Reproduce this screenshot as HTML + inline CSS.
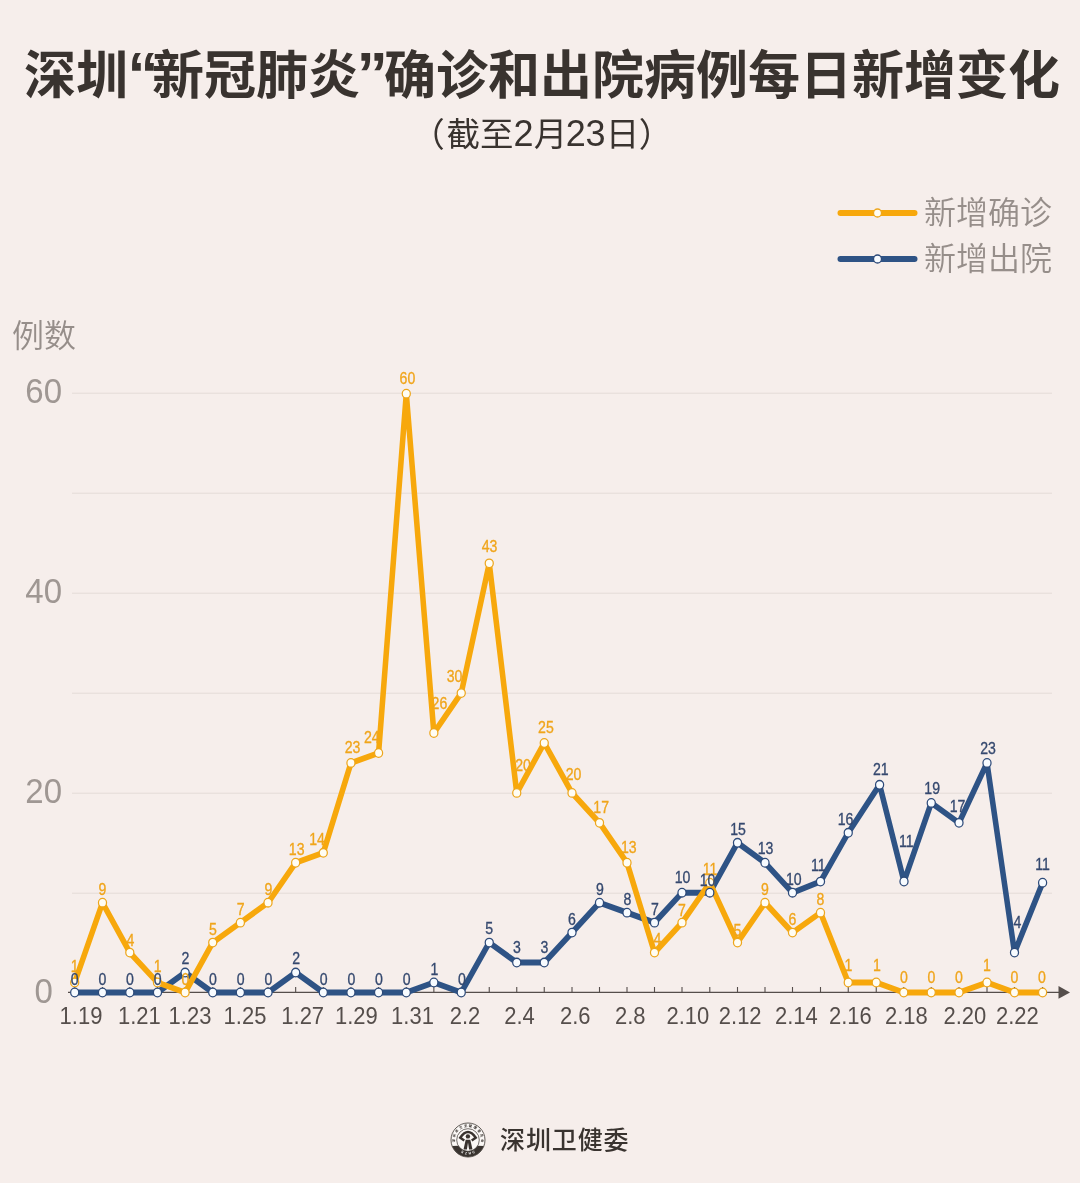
<!DOCTYPE html>
<html lang="zh-CN">
<head>
<meta charset="utf-8">
<title>深圳“新冠肺炎”确诊和出院病例每日新增变化</title>
<style>
html,body{margin:0;padding:0;}
body{width:1080px;height:1183px;background:#f6eeeb;position:relative;overflow:hidden;font-family:"Liberation Sans","Noto Sans CJK SC",sans-serif;}
.title{position:absolute;left:2px;top:40px;width:1080px;text-align:center;font-size:52px;line-height:72px;font-weight:700;color:#39332f;white-space:nowrap;margin:0;letter-spacing:0;}
.title .q{display:inline-block;font-size:62px;line-height:0;width:31px;position:relative;top:0.5px;}
.title .q1{margin:0 -6.5px 0 -0.5px;}
.title .q2{margin:0 -3.7px 0 -3.3px;}
.sub{position:absolute;left:411.3px;top:110.5px;width:400px;text-align:left;font-size:33.5px;line-height:46px;font-weight:400;color:#39332f;white-space:nowrap;margin:0;}
.sub .n{font-size:36px;letter-spacing:0.3px;}
.sub .n2{margin-left:-1.5px;letter-spacing:-0.4px;margin-right:0.7px;}
.sub .p1{margin-right:1.7px;}
.sub .p2{margin-left:-0.4px;}
.legend{position:absolute;left:836px;top:190.3px;width:230px;list-style:none;margin:0;padding:0;}
.legend li{height:46px;line-height:46px;font-size:32px;font-weight:350;color:#968e8a;white-space:nowrap;position:relative;padding-left:88px;}
.legend svg{position:absolute;left:0;top:13px;}
.ylab{position:absolute;left:12px;top:313px;font-size:32px;line-height:46px;font-weight:350;color:#968e8a;}
.chart{position:absolute;left:0;top:0;}
.chart text{font-family:"Liberation Sans","Noto Sans CJK SC",sans-serif;}
.footer{position:absolute;left:450px;top:1120px;height:40px;white-space:nowrap;}
.footer svg{position:absolute;left:0.4px;top:2.2px;}
.footer span{position:absolute;left:50px;top:0;font-size:25px;line-height:40px;font-weight:500;letter-spacing:0.9px;color:#39332f;}
</style>
</head>
<body>
<h1 class="title">深圳<span class="q q1">“</span>新冠肺炎<span class="q q2">”</span>确诊和出院病例每日新增变化</h1>
<p class="sub"><span class="p1">（</span>截至<span class="n">2</span>月<span class="n n2">23</span>日<span class="p2">）</span></p>
<ul class="legend">
<li><svg width="84" height="20" viewBox="0 0 84 20"><line x1="4.5" y1="10" x2="78.5" y2="10" stroke="#f7a80c" stroke-width="6" stroke-linecap="round"/><circle cx="41.5" cy="10" r="4" fill="#fffdf3" stroke="#eda61c" stroke-width="1.3"/></svg>新增确诊</li>
<li><svg width="84" height="20" viewBox="0 0 84 20"><line x1="4.5" y1="10" x2="78.5" y2="10" stroke="#2e5385" stroke-width="6" stroke-linecap="round"/><circle cx="41.5" cy="10" r="4" fill="#f7fbff" stroke="#2d4a79" stroke-width="1.3"/></svg>新增出院</li>
</ul>
<div class="ylab">例数</div>
<svg class="chart" width="1080" height="1183" viewBox="0 0 1080 1183">
<g stroke="#e4dbd7" stroke-width="1">
<line x1="72" y1="893.2" x2="1052" y2="893.2"/>
<line x1="72" y1="793.2" x2="1052" y2="793.2"/>
<line x1="72" y1="693.2" x2="1052" y2="693.2"/>
<line x1="72" y1="593.2" x2="1052" y2="593.2"/>
<line x1="72" y1="493.2" x2="1052" y2="493.2"/>
<line x1="72" y1="393.2" x2="1052" y2="393.2"/>
</g>
<g fill="#9f9793" font-size="33" text-anchor="middle">
<text transform="translate(43.7,1002.8) scale(1,1.06)">0</text>
<text transform="translate(43.7,802.8) scale(1,1.06)">20</text>
<text transform="translate(43.7,602.8) scale(1,1.06)">40</text>
<text transform="translate(43.7,402.8) scale(1,1.06)">60</text>
</g>
<g stroke="#554e4b" stroke-width="1.1" fill="none">
<line x1="68" y1="992.4" x2="1060" y2="992.4"/>
<path d="M74.7 992.4v-5.4M102.5 992.4v-5.4M129.8 992.4v-5.4M157.47 992.4v-5.4M185.11 992.4v-5.4M212.75 992.4v-5.4M240.38 992.4v-5.4M268.02 992.4v-5.4M295.66 992.4v-5.4M323.3 992.4v-5.4M350.94 992.4v-5.4M378.58 992.4v-5.4M406.3 992.4v-5.4M433.86 992.4v-5.4M461.25 992.4v-5.4M489.25 992.4v-5.4M516.75 992.4v-5.4M544.25 992.4v-5.4M572 992.4v-5.4M599.5 992.4v-5.4M627 992.4v-5.4M654.5 992.4v-5.4M682 992.4v-5.4M709.8 992.4v-5.4M737.5 992.4v-5.4M765 992.4v-5.4M792.5 992.4v-5.4M820.5 992.4v-5.4M848.25 992.4v-5.4M876.25 992.4v-5.4M903.75 992.4v-5.4M931.25 992.4v-5.4M959 992.4v-5.4M987 992.4v-5.4M1014.5 992.4v-5.4M1042.6 992.4v-5.4"/>
</g>
<path d="M1058.5 986L1070 992.4L1058.5 998.8Z" fill="#554e4b"/>
<g fill="#554e4b" font-size="22" text-anchor="middle">
<text transform="translate(81,1023.8) scale(1,1.07)">1.19</text>
<text transform="translate(139.3,1023.8) scale(1,1.07)">1.21</text>
<text transform="translate(190,1023.8) scale(1,1.07)">1.23</text>
<text transform="translate(245,1023.8) scale(1,1.07)">1.25</text>
<text transform="translate(302.7,1023.8) scale(1,1.07)">1.27</text>
<text transform="translate(356.3,1023.8) scale(1,1.07)">1.29</text>
<text transform="translate(412.5,1023.8) scale(1,1.07)">1.31</text>
<text transform="translate(465,1023.8) scale(1,1.07)">2.2</text>
<text transform="translate(519.5,1023.8) scale(1,1.07)">2.4</text>
<text transform="translate(575.2,1023.8) scale(1,1.07)">2.6</text>
<text transform="translate(630.2,1023.8) scale(1,1.07)">2.8</text>
<text transform="translate(687.8,1023.8) scale(1,1.07)">2.10</text>
<text transform="translate(740.2,1023.8) scale(1,1.07)">2.12</text>
<text transform="translate(796.3,1023.8) scale(1,1.07)">2.14</text>
<text transform="translate(850.3,1023.8) scale(1,1.07)">2.16</text>
<text transform="translate(906.3,1023.8) scale(1,1.07)">2.18</text>
<text transform="translate(964.8,1023.8) scale(1,1.07)">2.20</text>
<text transform="translate(1017.3,1023.8) scale(1,1.07)">2.22</text>
</g>
<g transform="scale(0.94,1)">
<polyline points="79.47,992.5 109.04,992.5 138.09,992.5 167.52,992.5 196.93,972.54 226.33,992.5 255.72,992.5 285.13,992.5 314.53,972.54 343.94,992.5 373.34,992.5 402.74,992.5 432.23,992.5 461.55,982.52 490.69,992.5 520.48,942.6 549.73,962.56 578.99,962.56 608.51,932.62 637.77,902.68 667.02,912.66 696.28,922.64 725.53,892.7 755.11,892.7 784.57,842.8 813.83,862.76 843.09,892.7 872.87,881.6 902.39,832.82 935.74,784.8 961.7,881.5 990.69,802.88 1020.21,822.84 1050.0,762.96 1079.26,952.58 1109.15,882.72" fill="none" stroke="#2e5385" stroke-width="5.9" stroke-linejoin="round" stroke-linecap="butt"/>
<polyline points="79.47,982.52 109.04,902.68 138.09,952.58 167.52,982.52 196.93,992.5 226.33,942.6 255.72,922.64 285.13,902.68 314.53,862.76 343.94,852.78 373.34,762.96 402.74,752.98 432.23,393.7 461.55,733.02 490.69,693.1 520.48,563.36 549.73,792.9 578.99,743.0 608.51,792.9 637.77,822.84 667.02,862.76 696.28,952.58 725.53,922.64 755.11,882.72 784.57,942.6 813.83,902.68 843.09,932.62 872.87,912.66 902.39,982.52 932.18,982.52 961.44,992.5 990.69,992.5 1020.21,992.5 1050.0,982.52 1079.26,992.5 1109.15,992.5" fill="none" stroke="#f7a80c" stroke-width="5.9" stroke-linejoin="round" stroke-linecap="butt"/>
<g fill="#fffdf3" stroke="#eda61c" stroke-width="1.3"><circle cx="79.47" cy="982.52" r="4.3"/><circle cx="109.04" cy="902.68" r="4.3"/><circle cx="138.09" cy="952.58" r="4.3"/><circle cx="167.52" cy="982.52" r="4.3"/><circle cx="196.93" cy="992.5" r="4.3"/><circle cx="226.33" cy="942.6" r="4.3"/><circle cx="255.72" cy="922.64" r="4.3"/><circle cx="285.13" cy="902.68" r="4.3"/><circle cx="314.53" cy="862.76" r="4.3"/><circle cx="343.94" cy="852.78" r="4.3"/><circle cx="373.34" cy="762.96" r="4.3"/><circle cx="402.74" cy="752.98" r="4.3"/><circle cx="432.23" cy="393.7" r="4.3"/><circle cx="461.55" cy="733.02" r="4.3"/><circle cx="490.69" cy="693.1" r="4.3"/><circle cx="520.48" cy="563.36" r="4.3"/><circle cx="549.73" cy="792.9" r="4.3"/><circle cx="578.99" cy="743.0" r="4.3"/><circle cx="608.51" cy="792.9" r="4.3"/><circle cx="637.77" cy="822.84" r="4.3"/><circle cx="667.02" cy="862.76" r="4.3"/><circle cx="696.28" cy="952.58" r="4.3"/><circle cx="725.53" cy="922.64" r="4.3"/><circle cx="755.11" cy="882.72" r="4.3"/><circle cx="784.57" cy="942.6" r="4.3"/><circle cx="813.83" cy="902.68" r="4.3"/><circle cx="843.09" cy="932.62" r="4.3"/><circle cx="872.87" cy="912.66" r="4.3"/><circle cx="902.39" cy="982.52" r="4.3"/><circle cx="932.18" cy="982.52" r="4.3"/><circle cx="961.44" cy="992.5" r="4.3"/><circle cx="990.69" cy="992.5" r="4.3"/><circle cx="1020.21" cy="992.5" r="4.3"/><circle cx="1050.0" cy="982.52" r="4.3"/><circle cx="1079.26" cy="992.5" r="4.3"/><circle cx="1109.15" cy="992.5" r="4.3"/></g>
<g fill="#f7fbff" stroke="#2d4a79" stroke-width="1.3"><circle cx="79.47" cy="992.5" r="4.3"/><circle cx="109.04" cy="992.5" r="4.3"/><circle cx="138.09" cy="992.5" r="4.3"/><circle cx="167.52" cy="992.5" r="4.3"/><circle cx="196.93" cy="972.54" r="4.3"/><circle cx="226.33" cy="992.5" r="4.3"/><circle cx="255.72" cy="992.5" r="4.3"/><circle cx="285.13" cy="992.5" r="4.3"/><circle cx="314.53" cy="972.54" r="4.3"/><circle cx="343.94" cy="992.5" r="4.3"/><circle cx="373.34" cy="992.5" r="4.3"/><circle cx="402.74" cy="992.5" r="4.3"/><circle cx="432.23" cy="992.5" r="4.3"/><circle cx="461.55" cy="982.52" r="4.3"/><circle cx="490.69" cy="992.5" r="4.3"/><circle cx="520.48" cy="942.6" r="4.3"/><circle cx="549.73" cy="962.56" r="4.3"/><circle cx="578.99" cy="962.56" r="4.3"/><circle cx="608.51" cy="932.62" r="4.3"/><circle cx="637.77" cy="902.68" r="4.3"/><circle cx="667.02" cy="912.66" r="4.3"/><circle cx="696.28" cy="922.64" r="4.3"/><circle cx="725.53" cy="892.7" r="4.3"/><circle cx="755.11" cy="892.7" r="4.3"/><circle cx="784.57" cy="842.8" r="4.3"/><circle cx="813.83" cy="862.76" r="4.3"/><circle cx="843.09" cy="892.7" r="4.3"/><circle cx="872.87" cy="881.6" r="4.3"/><circle cx="902.39" cy="832.82" r="4.3"/><circle cx="935.74" cy="784.8" r="4.3"/><circle cx="961.7" cy="881.5" r="4.3"/><circle cx="990.69" cy="802.88" r="4.3"/><circle cx="1020.21" cy="822.84" r="4.3"/><circle cx="1050.0" cy="762.96" r="4.3"/><circle cx="1079.26" cy="952.58" r="4.3"/><circle cx="1109.15" cy="882.72" r="4.3"/></g>
</g>
<g fill="#f0a51b" stroke="#f0a51b" stroke-width="0.3" font-size="15" text-anchor="middle"><text transform="translate(74.7,971.8) scale(0.94,1.05)">1</text><text transform="translate(102.4,895.0) scale(0.94,1.05)">9</text><text transform="translate(130.5,945.8) scale(0.94,1.05)">4</text><text transform="translate(157.7,971.8) scale(0.94,1.05)">1</text><text transform="translate(185.3,985.0) scale(0.94,1.05)">0</text><text transform="translate(213.0,935.0) scale(0.94,1.05)">5</text><text transform="translate(240.7,914.5) scale(0.94,1.05)">7</text><text transform="translate(268.3,894.5) scale(0.94,1.05)">9</text><text transform="translate(296.7,854.5) scale(0.94,1.05)">13</text><text transform="translate(317.0,844.8) scale(0.94,1.05)">14</text><text transform="translate(352.5,752.5) scale(0.94,1.05)">23</text><text transform="translate(371.8,743.2) scale(0.94,1.05)">24</text><text transform="translate(407.4,383.7) scale(0.94,1.05)">60</text><text transform="translate(439.4,709.2) scale(0.94,1.05)">26</text><text transform="translate(454.6,682.4) scale(0.94,1.05)">30</text><text transform="translate(489.6,551.5) scale(0.94,1.05)">43</text><text transform="translate(523.0,771.2) scale(0.94,1.05)">20</text><text transform="translate(545.9,733.2) scale(0.94,1.05)">25</text><text transform="translate(573.5,780.0) scale(0.94,1.05)">20</text><text transform="translate(601.2,813.0) scale(0.94,1.05)">17</text><text transform="translate(628.8,853.2) scale(0.94,1.05)">13</text><text transform="translate(657.5,945.0) scale(0.94,1.05)">4</text><text transform="translate(681.8,916.2) scale(0.94,1.05)">7</text><text transform="translate(710.0,875.0) scale(0.94,1.05)">11</text><text transform="translate(737.5,935.8) scale(0.94,1.05)">5</text><text transform="translate(765.0,895.0) scale(0.94,1.05)">9</text><text transform="translate(792.5,925.0) scale(0.94,1.05)">6</text><text transform="translate(820.5,904.5) scale(0.94,1.05)">8</text><text transform="translate(848.4,971.4) scale(0.94,1.05)">1</text><text transform="translate(876.8,971.4) scale(0.94,1.05)">1</text><text transform="translate(903.8,982.6) scale(0.94,1.05)">0</text><text transform="translate(931.3,982.6) scale(0.94,1.05)">0</text><text transform="translate(959.0,982.6) scale(0.94,1.05)">0</text><text transform="translate(986.8,971.4) scale(0.94,1.05)">1</text><text transform="translate(1014.5,982.6) scale(0.94,1.05)">0</text><text transform="translate(1042.0,982.6) scale(0.94,1.05)">0</text></g>
<g fill="#35496f" stroke="#35496f" stroke-width="0.3" font-size="15" text-anchor="middle"><text transform="translate(74.7,985.0) scale(0.94,1.05)">0</text><text transform="translate(102.4,985.0) scale(0.94,1.05)">0</text><text transform="translate(130.0,985.0) scale(0.94,1.05)">0</text><text transform="translate(157.7,985.0) scale(0.94,1.05)">0</text><text transform="translate(185.5,963.8) scale(0.94,1.05)">2</text><text transform="translate(213.0,985.0) scale(0.94,1.05)">0</text><text transform="translate(240.7,985.0) scale(0.94,1.05)">0</text><text transform="translate(268.3,985.0) scale(0.94,1.05)">0</text><text transform="translate(296.2,963.8) scale(0.94,1.05)">2</text><text transform="translate(323.6,985.0) scale(0.94,1.05)">0</text><text transform="translate(351.3,985.0) scale(0.94,1.05)">0</text><text transform="translate(379.0,985.0) scale(0.94,1.05)">0</text><text transform="translate(406.6,985.0) scale(0.94,1.05)">0</text><text transform="translate(434.3,975.0) scale(0.94,1.05)">1</text><text transform="translate(461.9,985.0) scale(0.94,1.05)">0</text><text transform="translate(489.2,933.8) scale(0.94,1.05)">5</text><text transform="translate(517.0,953.2) scale(0.94,1.05)">3</text><text transform="translate(544.4,953.2) scale(0.94,1.05)">3</text><text transform="translate(572.0,925.0) scale(0.94,1.05)">6</text><text transform="translate(600.0,895.0) scale(0.94,1.05)">9</text><text transform="translate(627.5,904.5) scale(0.94,1.05)">8</text><text transform="translate(655.0,914.5) scale(0.94,1.05)">7</text><text transform="translate(682.5,883.2) scale(0.94,1.05)">10</text><text transform="translate(707.5,886.2) scale(0.94,1.05)">10</text><text transform="translate(738.0,834.5) scale(0.94,1.05)">15</text><text transform="translate(765.5,854.2) scale(0.94,1.05)">13</text><text transform="translate(793.8,884.5) scale(0.94,1.05)">10</text><text transform="translate(818.2,871.2) scale(0.94,1.05)">11</text><text transform="translate(845.5,824.5) scale(0.94,1.05)">16</text><text transform="translate(880.8,774.5) scale(0.94,1.05)">21</text><text transform="translate(906.2,847.0) scale(0.94,1.05)">11</text><text transform="translate(932.2,793.7) scale(0.94,1.05)">19</text><text transform="translate(957.5,811.8) scale(0.94,1.05)">17</text><text transform="translate(988.0,754.2) scale(0.94,1.05)">23</text><text transform="translate(1017.5,928.0) scale(0.94,1.05)">4</text><text transform="translate(1042.5,870.0) scale(0.94,1.05)">11</text></g>
</svg>
<div class="footer">
<svg width="36" height="36" viewBox="0 0 36 36">
<circle cx="18" cy="18" r="17" fill="#fbf8f6" stroke="#39332f" stroke-width="0.8"/>
<path d="M33.87 24.09A17 17 0 0 1 2.13 24.09L8.31 23.82A11.3 11.3 0 0 0 27.69 23.82Z" fill="#39332f"/>
<circle cx="18" cy="18" r="11.3" fill="none" stroke="#39332f" stroke-width="0.7"/>
<path d="M14.3 18.6L10.2 15.7Q18 4.4 25.8 15.7L21.7 18.6" fill="none" stroke="#39332f" stroke-width="2.4" stroke-linejoin="miter"/>
<circle cx="17.9" cy="14.4" r="2.2" fill="#39332f"/>
<path d="M15.7 17.7L20.3 17.7L22.5 27.4L19.1 27.4L18 20.6L16.9 27.4L13.5 27.4Z" fill="#39332f"/>
<defs><path id="arcT" d="M5.29 21.17A13.1 13.1 0 1 1 30.71 21.17"/><path id="arcB" d="M9.07 29.43A14.5 14.5 0 0 0 26.93 29.43"/></defs>
<text font-size="3.3" fill="#39332f" font-family='"Liberation Sans","Noto Sans CJK SC",sans-serif' font-weight="700"><textPath href="#arcT" startOffset="50%" text-anchor="middle" textLength="45" lengthAdjust="spacing">深圳市卫生健康委员会</textPath></text>
<text font-size="3.5" fill="#fff" font-family='"Liberation Sans","Noto Sans CJK SC",sans-serif' font-weight="700"><textPath href="#arcB" startOffset="50%" text-anchor="middle" textLength="15" lengthAdjust="spacing">SZHC</textPath></text>
</svg>
<span>深圳卫健委</span>
</div>
</body>
</html>
